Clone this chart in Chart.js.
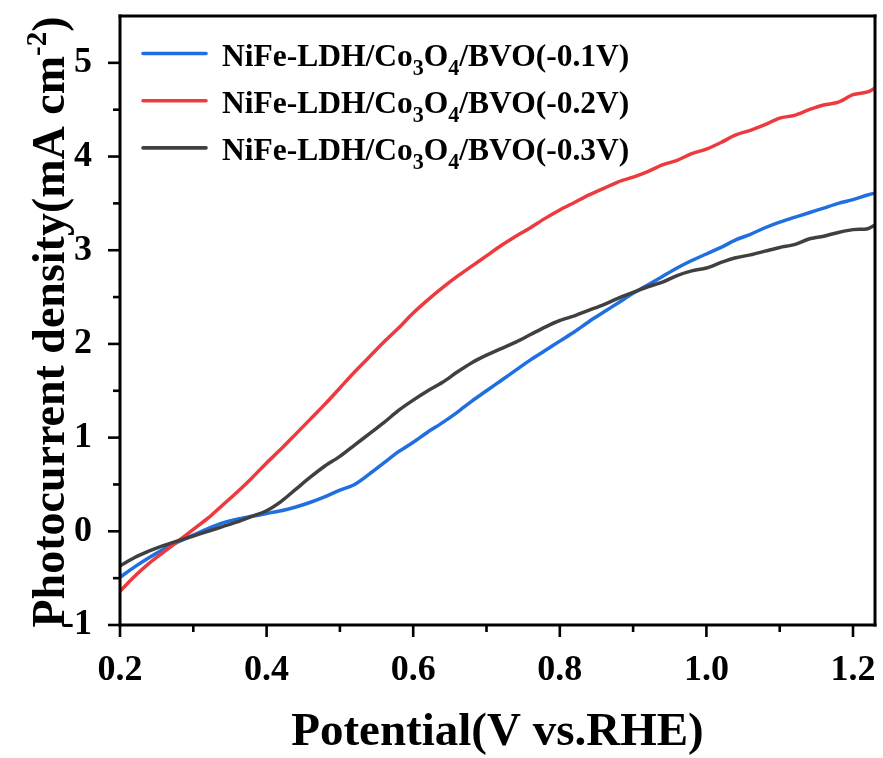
<!DOCTYPE html>
<html>
<head>
<meta charset="utf-8">
<title>Photocurrent density vs potential</title>
<script src="https://cdn.jsdelivr.net/npm/chart.js@4.4.1/dist/chart.umd.min.js"></script>
<style>
  html, body { margin: 0; padding: 0; background: #fff; }
  #wrap { width: 883px; height: 758px; }
</style>
</head>
<body>
<div id="wrap"><canvas id="lsv" width="883" height="758"></canvas></div>
<script>
// LSV curves, photocurrent density (mA cm-2) against potential (V vs. RHE)
const POTENTIAL = [
  0.20, 0.22, 0.24, 0.26, 0.28, 0.30, 0.32, 0.34, 0.36, 0.38,
  0.40, 0.42, 0.44, 0.46, 0.48, 0.50, 0.52, 0.54, 0.56, 0.58,
  0.60, 0.62, 0.64, 0.66, 0.68, 0.70, 0.72, 0.74, 0.76, 0.78,
  0.80, 0.82, 0.84, 0.86, 0.88, 0.90, 0.92, 0.94, 0.96, 0.98,
  1.00, 1.02, 1.04, 1.06, 1.08, 1.10, 1.12, 1.14, 1.16, 1.18,
  1.20, 1.22, 1.23
];

const J_01V = [
  -0.49, -0.38, -0.28, -0.19, -0.11, -0.04, 0.03, 0.09, 0.13, 0.16,
  0.19, 0.22, 0.26, 0.31, 0.37, 0.44, 0.50, 0.61, 0.73, 0.85,
  0.95, 1.06, 1.16, 1.27, 1.39, 1.50, 1.61, 1.72, 1.83, 1.93,
  2.03, 2.13, 2.24, 2.34, 2.44, 2.54, 2.63, 2.72, 2.81, 2.89,
  2.96, 3.03, 3.11, 3.17, 3.24, 3.30, 3.35, 3.40, 3.45, 3.50,
  3.54, 3.59, 3.61
];

const J_02V = [
  -0.64, -0.48, -0.34, -0.22, -0.10, 0.02, 0.14, 0.28, 0.42, 0.57,
  0.73, 0.88, 1.04, 1.20, 1.36, 1.53, 1.70, 1.86, 2.02, 2.17,
  2.33, 2.47, 2.60, 2.72, 2.83, 2.94, 3.05, 3.15, 3.24, 3.34,
  3.43, 3.51, 3.59, 3.66, 3.73, 3.78, 3.84, 3.91, 3.96, 4.03,
  4.08, 4.15, 4.23, 4.28, 4.34, 4.41, 4.44, 4.50, 4.55, 4.58,
  4.66, 4.69, 4.73
];

const J_03V = [
  -0.37, -0.28, -0.21, -0.15, -0.10, -0.05, 0.00, 0.05, 0.10, 0.16,
  0.22, 0.32, 0.45, 0.58, 0.70, 0.80, 0.92, 1.04, 1.16, 1.29,
  1.40, 1.50, 1.59, 1.70, 1.80, 1.88, 1.95, 2.02, 2.10, 2.18,
  2.25, 2.30, 2.36, 2.42, 2.49, 2.55, 2.61, 2.66, 2.73, 2.78,
  2.81, 2.87, 2.92, 2.95, 2.99, 3.03, 3.06, 3.12, 3.15, 3.19,
  3.22, 3.23, 3.27
];

const LABELS = [
  "NiFe-LDH/Co3O4/BVO(-0.1V)",
  "NiFe-LDH/Co3O4/BVO(-0.2V)",
  "NiFe-LDH/Co3O4/BVO(-0.3V)"
];
const COLORS = ["#1f6fe0", "#ec3a3e", "#404040"];

const X_TITLE = "Potential(V vs.RHE)";
const Y_TITLE = "Photocurrent density(mA cm";
const Y_TITLE_SUP = "-2";

const SERIF = '"Liberation Serif", "Times New Roman", serif';

function pts(ys) {
  return POTENTIAL.map((x, i) => ({ x: x, y: ys[i] }));
}

// draw a label, turning digits that follow a letter into subscripts (Co3O4)
function drawFormula(ctx, text, x, y, size) {
  const tokens = [];
  const re = /([A-Za-z])(\d)/g;
  let last = 0, m;
  while ((m = re.exec(text)) !== null) {
    tokens.push({ t: text.slice(last, m.index + 1), sub: false });
    tokens.push({ t: m[2], sub: true });
    last = m.index + 2;
  }
  tokens.push({ t: text.slice(last), sub: false });
  let cx = x;
  tokens.forEach((tk) => {
    const fs = tk.sub ? size * 0.7 : size;
    ctx.font = "bold " + fs + "px " + SERIF;
    ctx.fillText(tk.t, cx, tk.sub ? y + size * 0.3 : y);
    cx += ctx.measureText(tk.t).width;
  });
}

const framePlugin = {
  id: "frame",
  afterDraw(chart) {
    const { ctx, chartArea: a, scales } = chart;
    const xs = scales.x, ys = scales.y;
    const line = (x1, y1, x2, y2) => { ctx.beginPath(); ctx.moveTo(x1, y1); ctx.lineTo(x2, y2); ctx.stroke(); };

    ctx.save();
    ctx.strokeStyle = "#000";
    ctx.lineWidth = 3;
    ctx.lineCap = "square";
    line(a.left, a.top, a.right, a.top);
    line(a.right, a.top, a.right, a.bottom);
    line(a.right, a.bottom, a.left, a.bottom);
    line(a.left, a.bottom, a.left, a.top);

    // outward ticks on bottom and left, minor ticks halfway between majors
    ctx.lineWidth = 2.6;
    ctx.lineCap = "butt";
    const xt = xs.ticks.map((t) => t.value);
    const yt = ys.ticks.map((t) => t.value);
    xt.forEach((v, i) => {
      const px = xs.getPixelForValue(v);
      line(px, a.bottom, px, a.bottom + 12);
      if (i < xt.length - 1) {
        const mx = xs.getPixelForValue((v + xt[i + 1]) / 2);
        line(mx, a.bottom, mx, a.bottom + 7);
      }
    });
    yt.forEach((v, i) => {
      const py = ys.getPixelForValue(v);
      line(a.left, py, a.left - 12, py);
      if (i < yt.length - 1) {
        const my = ys.getPixelForValue((v + yt[i + 1]) / 2);
        line(a.left, my, a.left - 7, my);
      }
    });
    ctx.restore();

    // y title with superscript
    ctx.save();
    ctx.fillStyle = "#000";
    ctx.textBaseline = "alphabetic";
    ctx.translate(64, 322);
    ctx.rotate(-Math.PI / 2);
    ctx.font = "bold 46px " + SERIF;
    const w1 = ctx.measureText(Y_TITLE).width;
    const wClose = ctx.measureText(")").width;
    ctx.font = "bold 29px " + SERIF;
    const wSup = ctx.measureText(Y_TITLE_SUP).width;
    let tx = -(w1 + wSup + wClose) / 2;
    ctx.font = "bold 46px " + SERIF;
    ctx.fillText(Y_TITLE, tx, 0);
    tx += w1;
    ctx.font = "bold 29px " + SERIF;
    ctx.fillText(Y_TITLE_SUP, tx, -18);
    tx += wSup;
    ctx.font = "bold 46px " + SERIF;
    ctx.fillText(")", tx, 0);
    ctx.restore();

    // legend
    ctx.save();
    ctx.textBaseline = "alphabetic";
    ctx.fillStyle = "#000";
    LABELS.forEach((lab, i) => {
      const ly = 53.5 + i * 47.2;
      ctx.strokeStyle = COLORS[i];
      ctx.lineWidth = 3.6;
      ctx.lineCap = "round";
      ctx.beginPath();
      ctx.moveTo(143, ly);
      ctx.lineTo(206, ly);
      ctx.stroke();
      drawFormula(ctx, lab, 222, ly + 12, 31.5);
    });
    ctx.restore();
  }
};

const datasets = [J_01V, J_02V, J_03V].map((ys, i) => ({
  label: LABELS[i],
  data: pts(ys),
  borderColor: COLORS[i],
  borderWidth: 3.5,
  pointRadius: 0,
  tension: 0.3,
  order: 2 - i
}));

new Chart(document.getElementById("lsv"), {
  type: "line",
  data: { datasets },
  plugins: [framePlugin],
  options: {
    responsive: false,
    animation: false,
    devicePixelRatio: 1,
    layout: { padding: { top: 16, right: 8, left: 0, bottom: 0 } },
    plugins: { legend: { display: false }, tooltip: { enabled: false } },
    scales: {
      x: {
        type: "linear",
        min: 0.2,
        max: 1.23,
        grid: { display: false },
        border: { display: false },
        ticks: {
          stepSize: 0.2,
          includeBounds: false,
          color: "#000",
          padding: 16,
          maxRotation: 0,
          font: { family: SERIF, size: 36, weight: "bold" },
          callback: (v) => v.toFixed(1)
        },
        title: {
          display: true,
          text: X_TITLE,
          color: "#000",
          padding: { top: 0, bottom: 2 },
          font: { family: SERIF, size: 47, weight: "bold", lineHeight: 1 }
        },
        afterFit: (s) => {
          s.height = 758 - 625;
          s.paddingLeft = 0;
          s.paddingRight = 0;
        }
      },
      y: {
        min: -1,
        max: 5.5,
        grid: { display: false },
        border: { display: false },
        ticks: {
          stepSize: 1,
          includeBounds: false,
          color: "#000",
          padding: 20,
          font: { family: SERIF, size: 36, weight: "bold" },
          callback: (v) => String(v)
        },
        afterFit: (s) => {
          s.width = 120;
          s.paddingTop = 0;
          s.paddingBottom = 0;
        }
      }
    }
  }
});
</script>
</body>
</html>
